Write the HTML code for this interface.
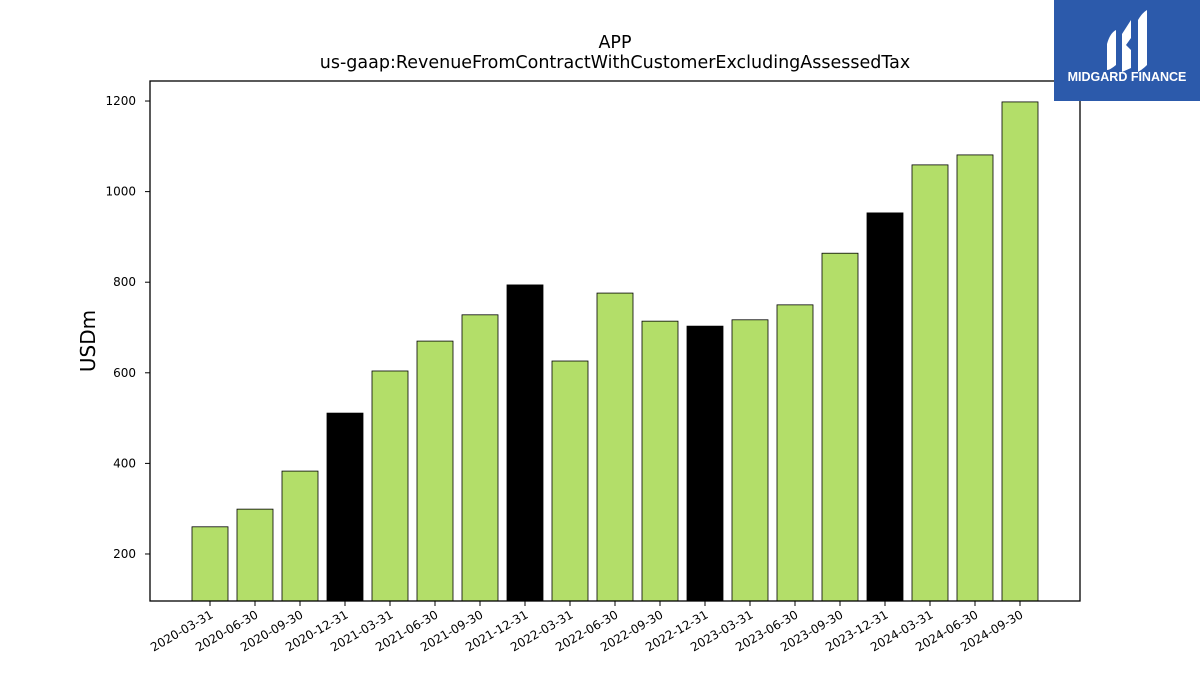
<!DOCTYPE html>
<html><head><meta charset="utf-8"><style>
html,body{margin:0;padding:0;background:#fff;width:1200px;height:675px;overflow:hidden;font-family:"Liberation Sans","DejaVu Sans",sans-serif}
</style></head><body>
<svg id="chart" width="1200" height="675" xmlns="http://www.w3.org/2000/svg">
<text x="615" y="48" text-anchor="middle" font-size="17.5" font-family="DejaVu Sans,Liberation Sans,sans-serif">APP</text>
<text x="615" y="68" text-anchor="middle" font-size="17.5" font-family="DejaVu Sans,Liberation Sans,sans-serif">us-gaap:RevenueFromContractWithCustomerExcludingAssessedTax</text>
<text transform="translate(95,341) rotate(-90)" text-anchor="middle" font-size="20" font-family="DejaVu Sans,Liberation Sans,sans-serif">USDm</text>
<g id="bars"></g><g id="xticks"></g><g id="yticks"></g>
<rect x="150" y="81" width="930" height="520" fill="none" stroke="#000" stroke-width="1.3"/>
<g>
<rect x="1054" y="0" width="146" height="101" fill="#2c5aab"/>
<path d="M1107 44 Q1110 33 1116 30 L1116 65 Q1110 70 1107 70 Z" fill="#fff"/>
<path d="M1122 34 L1131 20 L1131 38 L1126 45 L1131 50 L1131 68 L1122 72 Z" fill="#fff"/>
<path d="M1138 20 Q1142 13 1147 10 L1147 65 Q1142 70 1138 72 Z" fill="#fff"/>
<text x="1127" y="81" text-anchor="middle" font-size="12.5" font-weight="bold" fill="#fff">MIDGARD FINANCE</text>
</g>
</svg>
<script>
const categories=["2020-03-31","2020-06-30","2020-09-30","2020-12-31","2021-03-31","2021-06-30","2021-09-30","2021-12-31","2022-03-31","2022-06-30","2022-09-30","2022-12-31","2023-03-31","2023-06-30","2023-09-30","2023-12-31","2024-03-31","2024-06-30","2024-09-30"];
const values=[260,299,383,511,604,670,728,794,626,776,714,703,717,750,864,953,1059,1081,1198];
const yTicks=[200,400,600,800,1000,1200];
const NS="http://www.w3.org/2000/svg";
const yMin=96.2,yMax=1244.2,plotTop=81,plotBot=601;
function yS(v){return plotBot-(v-yMin)/(yMax-yMin)*(plotBot-plotTop);}
function xS(i){return 210+i*45;}
const bw=36;
const gb=document.getElementById('bars'),gx=document.getElementById('xticks'),gy=document.getElementById('yticks');
function mk(t,a,p){const e=document.createElementNS(NS,t);for(const k in a)e.setAttribute(k,a[k]);p.appendChild(e);return e;}
categories.forEach((c,i)=>{
  const q=c.endsWith("12-31");
  const r=mk('rect',{x:xS(i)-bw/2,y:yS(values[i]),width:bw,height:plotBot-yS(values[i]),fill:q?'#000':'#b3de69',stroke:'#000','stroke-width':0.8},gb);
  
  
  const tk=mk('line',{x1:xS(i),x2:xS(i),y1:plotBot,y2:plotBot+5,stroke:'#000'},gx);
  
  
  const t=mk('text',{transform:`translate(${xS(i)+4},${plotBot+16}) rotate(-30)`,'text-anchor':'end','font-size':12,'font-family':'DejaVu Sans,Liberation Sans,sans-serif'},gx);
  t.textContent=c;
  
  
});
yTicks.forEach(v=>{
  const tk=mk('line',{x1:145,x2:150,y1:yS(v),y2:yS(v),stroke:'#000'},gy);
  
  
  const t=mk('text',{x:136,y:yS(v)+4,'text-anchor':'end','font-size':12,'font-family':'DejaVu Sans,Liberation Sans,sans-serif'},gy);
  t.textContent=v;
  
  
});
</script>
</body></html>
